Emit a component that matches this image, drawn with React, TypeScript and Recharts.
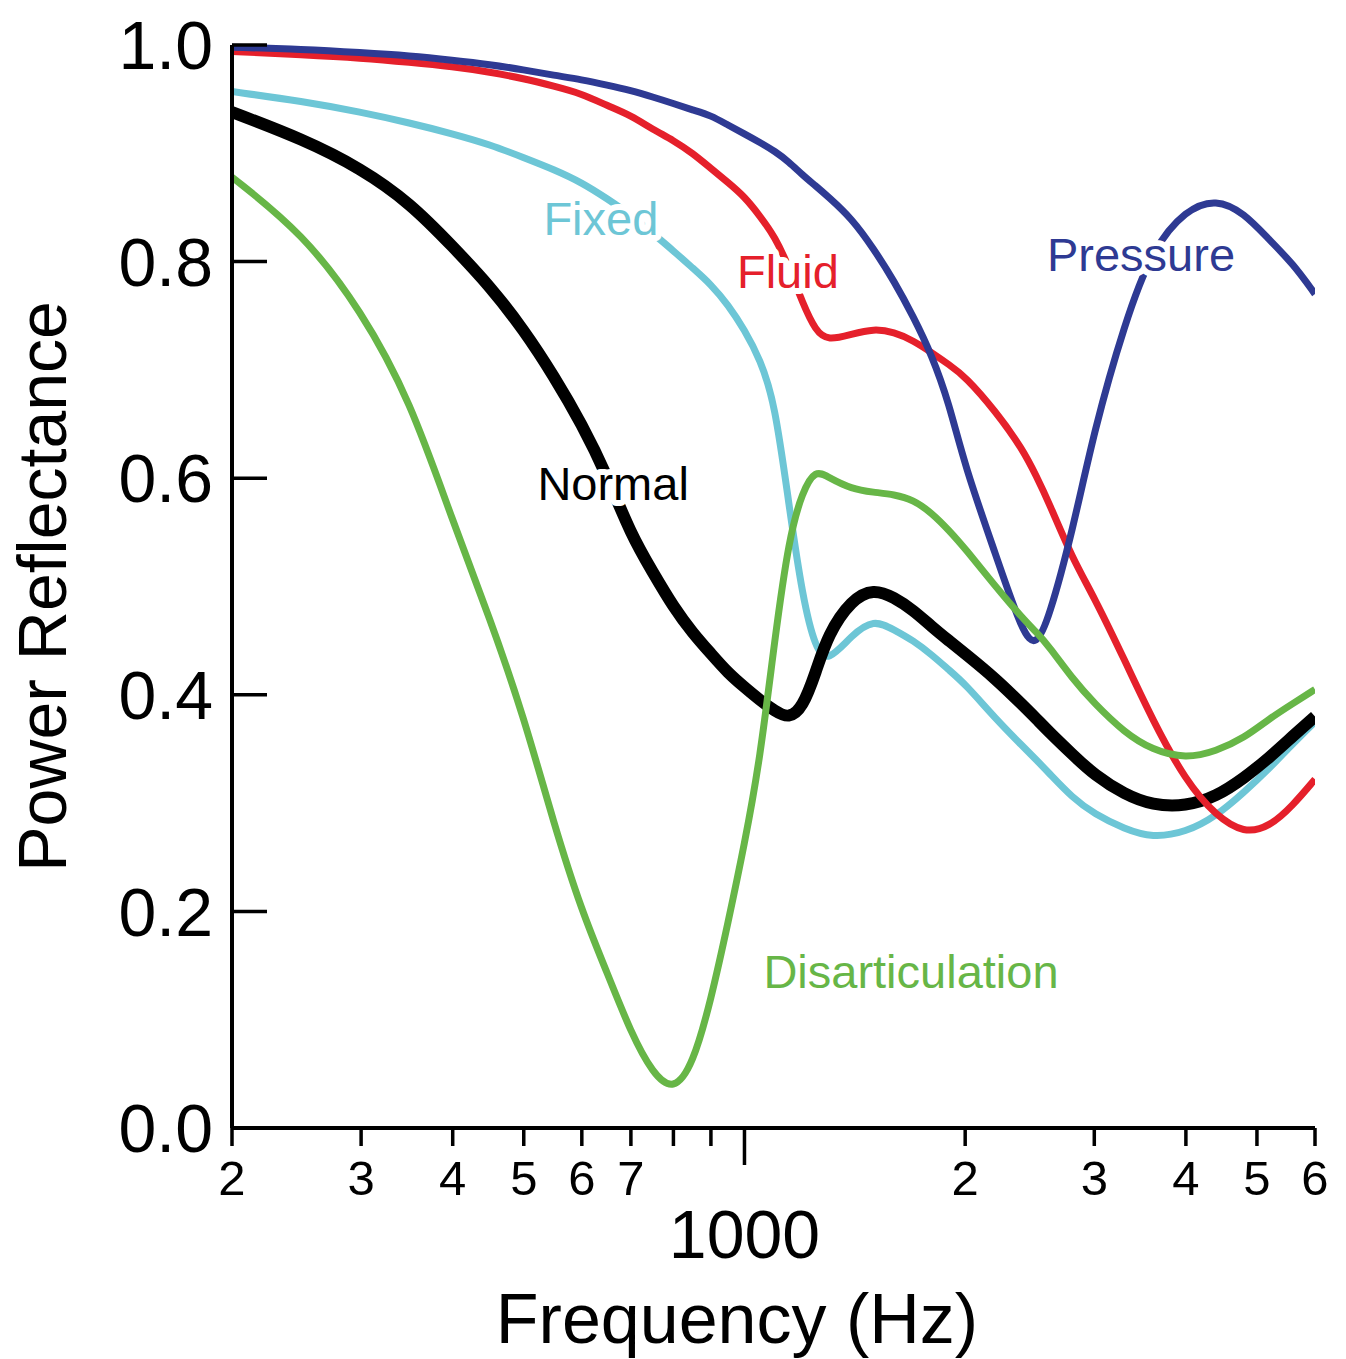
import React from 'react';
import { LineChart, Line, XAxis, YAxis, ReferenceDot } from 'recharts';

const FONT = '"Liberation Sans", Arial, Helvetica, sans-serif';

// frequency grid (Hz) shared by all curves
const freqs = [200, 250, 300, 350, 400, 450, 500, 550, 600, 650, 700, 750, 800, 850, 900, 950, 1000, 1050, 1100, 1150, 1200, 1250, 1300, 1400, 1500, 1600, 1700, 1800, 1900, 2000, 2200, 2400, 2500, 2600, 2800, 3000, 3300, 3600, 4000, 4400, 4800, 5200, 5600, 6000];

const normal = [0.938, 0.913, 0.886, 0.854, 0.814, 0.777, 0.737, 0.694, 0.65, 0.602, 0.548, 0.513, 0.481, 0.457, 0.438, 0.42, 0.407, 0.395, 0.385, 0.378, 0.388, 0.42, 0.456, 0.488, 0.498, 0.49, 0.478, 0.463, 0.45, 0.438, 0.415, 0.39, 0.378, 0.366, 0.345, 0.326, 0.308, 0.298, 0.297, 0.306, 0.323, 0.342, 0.362, 0.38];
const fixed = [0.957, 0.948, 0.938, 0.928, 0.918, 0.908, 0.896, 0.885, 0.873, 0.858, 0.843, 0.826, 0.81, 0.794, 0.779, 0.76, 0.737, 0.71, 0.67, 0.575, 0.49, 0.442, 0.43, 0.455, 0.47, 0.46, 0.45, 0.437, 0.423, 0.41, 0.378, 0.352, 0.34, 0.328, 0.305, 0.29, 0.276, 0.268, 0.273, 0.288, 0.31, 0.332, 0.355, 0.375];
const fluid = [0.994, 0.991, 0.988, 0.984, 0.98, 0.975, 0.969, 0.962, 0.955, 0.944, 0.935, 0.922, 0.912, 0.9, 0.886, 0.873, 0.86, 0.842, 0.823, 0.795, 0.762, 0.736, 0.727, 0.733, 0.738, 0.735, 0.727, 0.716, 0.705, 0.694, 0.662, 0.626, 0.602, 0.578, 0.526, 0.49, 0.432, 0.377, 0.32, 0.288, 0.272, 0.278, 0.298, 0.322];
const pressure = [0.998, 0.996, 0.993, 0.99, 0.986, 0.982, 0.977, 0.972, 0.968, 0.963, 0.958, 0.952, 0.946, 0.94, 0.935, 0.926, 0.918, 0.91, 0.902, 0.892, 0.88, 0.87, 0.86, 0.84, 0.812, 0.782, 0.749, 0.714, 0.67, 0.61, 0.53, 0.455, 0.445, 0.47, 0.55, 0.645, 0.743, 0.812, 0.848, 0.858, 0.845, 0.82, 0.798, 0.77];
const disarticulation = [0.878, 0.826, 0.755, 0.672, 0.56, 0.47, 0.38, 0.28, 0.2, 0.143, 0.088, 0.05, 0.034, 0.058, 0.118, 0.19, 0.262, 0.34, 0.452, 0.545, 0.588, 0.608, 0.601, 0.59, 0.587, 0.585, 0.58, 0.568, 0.552, 0.535, 0.5, 0.47, 0.458, 0.445, 0.415, 0.392, 0.365, 0.349, 0.341, 0.348, 0.36, 0.378, 0.392, 0.405];

const xTicks = [200, 300, 400, 500, 600, 700, 800, 900, 1000, 2000, 3000, 4000, 5000, 6000];
const xTickLabels: Record<number, string> = {
  200: '2', 300: '3', 400: '4', 500: '5', 600: '6', 700: '7', 800: '', 900: '',
  1000: '1000', 2000: '2', 3000: '3', 4000: '4', 5000: '5', 6000: '6',
};
const yTicks = [0, 0.2, 0.4, 0.6, 0.8, 1.0];

// curve name tags, placed in data units
const tags = [
  { text: 'Fixed', freq: 637, value: 0.825, color: '#6DC6D6' },
  { text: 'Fluid', freq: 1146, value: 0.776, color: '#E5202B' },
  { text: 'Pressure', freq: 3474, value: 0.791, color: '#2E3A93' },
  { text: 'Normal', freq: 662, value: 0.58, color: '#000000' },
  { text: 'Disarticulation', freq: 1687, value: 0.129, color: '#67B647' },
];

const data = freqs.map((freq, i) => ({
  freq,
  normal: normal[i],
  fixed: fixed[i],
  fluid: fluid[i],
  pressure: pressure[i],
  disarticulation: disarticulation[i],
}));

const XTick = (props: any) => {
  const { x, y, payload } = props;
  const label = xTickLabels[payload.value] ?? '';
  if (payload.value === 1000) {
    return (
      <g>
        <line x1={x} y1={y - 2} x2={x} y2={y + 17} stroke="#000" strokeWidth={3.5} />
        <text x={x} y={y + 110} textAnchor="middle" fontSize={68} fontFamily={FONT} fill="#000">{label}</text>
      </g>
    );
  }
  return (
    <text x={x} y={y + 47} textAnchor="middle" fontSize={49} fontFamily={FONT} fill="#000">{label}</text>
  );
};

const renderTag = (text: string, color: string) => (props: any) => {
  const vb = props.viewBox || {};
  const cx = (vb.x ?? 0) + (vb.width ?? 0) / 2;
  const cy = (vb.y ?? 0) + (vb.height ?? 0) / 2;
  return (
    <text
      x={cx}
      y={cy}
      textAnchor="middle"
      fontSize={47}
      fontFamily={FONT}
      fill={color}
      stroke="#fff"
      strokeWidth={12}
      strokeLinejoin="round"
      paintOrder="stroke"
    >
      {text}
    </text>
  );
};

const App = () => {
  return (
    <div style={{ position: 'absolute', left: 0, top: 0, width: 1346, height: 1359, background: '#fff' }}>
      <LineChart width={1346} height={1359} data={data} margin={{ top: 45, right: 31, left: 231, bottom: 131 }}>
        <XAxis
          dataKey="freq"
          type="number"
          scale="log"
          domain={[200, 6000]}
          ticks={xTicks}
          interval={0}
          allowDataOverflow
          height={100}
          tickSize={18}
          axisLine={{ stroke: '#000', strokeWidth: 4 }}
          tickLine={{ stroke: '#000', strokeWidth: 3.5 }}
          tick={<XTick />}
          label={{
            content: (p: any) => {
              const vb = p.viewBox;
              return (
                <text x={vb.x + 505} y={vb.y + 215} textAnchor="middle" fontSize={70} fontFamily={FONT} fill="#000">
                  Frequency (Hz)
                </text>
              );
            },
          }}
        />
        <YAxis
          type="number"
          domain={[0, 1]}
          ticks={yTicks}
          interval={0}
          width={1}
          tickSize={-35}
          tickMargin={54}
          tickFormatter={(v: number) => v.toFixed(1)}
          axisLine={{ stroke: '#000', strokeWidth: 4 }}
          tickLine={{ stroke: '#000', strokeWidth: 3.5 }}
          tick={{ fontSize: 68, fill: '#000', fontFamily: FONT }}
          label={{
            content: (p: any) => {
              const vb = p.viewBox;
              const tx = vb.x + vb.width - 166;
              const ty = vb.y + vb.height / 2;
              return (
                <text x={tx} y={ty} transform={`rotate(-90, ${tx}, ${ty})`} textAnchor="middle" fontSize={68} fontFamily={FONT} fill="#000">
                  Power Reflectance
                </text>
              );
            },
          }}
        />
        <Line type="basis" dataKey="fixed" stroke="#6DC6D6" strokeWidth={7} dot={false} activeDot={false} isAnimationActive={false} />
        <Line type="basis" dataKey="normal" stroke="#000000" strokeWidth={12} dot={false} activeDot={false} isAnimationActive={false} />
        <Line type="basis" dataKey="fluid" stroke="#E5202B" strokeWidth={7} dot={false} activeDot={false} isAnimationActive={false} />
        <Line type="basis" dataKey="pressure" stroke="#2E3A93" strokeWidth={7} dot={false} activeDot={false} isAnimationActive={false} />
        <Line type="basis" dataKey="disarticulation" stroke="#67B647" strokeWidth={7} dot={false} activeDot={false} isAnimationActive={false} />
        {tags.map((t) => (
          <ReferenceDot
            key={t.text}
            x={t.freq}
            y={t.value}
            r={0}
            fill="none"
            stroke="none"
            label={{ content: renderTag(t.text, t.color) }}
          />
        ))}
      </LineChart>
    </div>
  );
};

export default App;
